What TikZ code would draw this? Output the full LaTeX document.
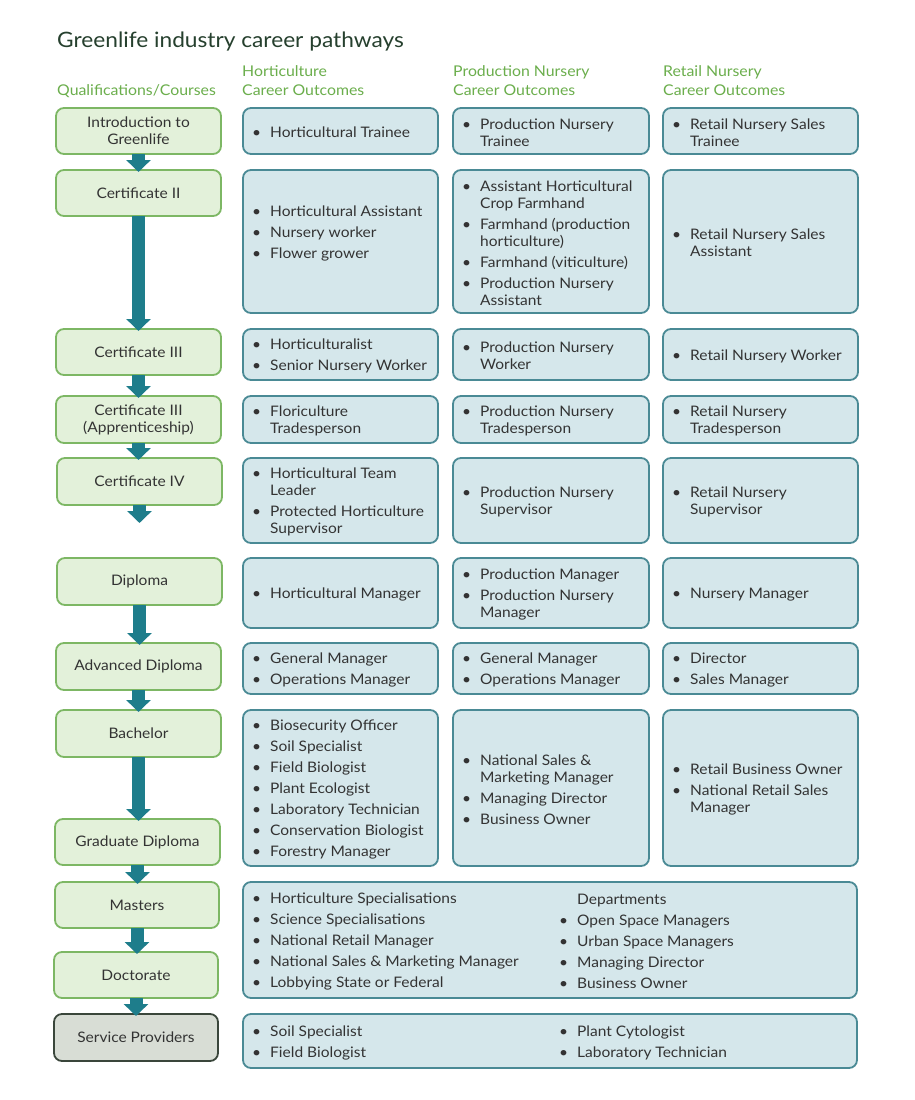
\documentclass[tikz,border=0pt]{standalone}
\usepackage{fontspec}
\setmainfont{Lato}[FakeStretch=1.07]
\usetikzlibrary{arrows.meta,calc}
\definecolor{titlecol}{HTML}{26402E}
\definecolor{hdrcol}{HTML}{6BAE4C}
\definecolor{qfill}{HTML}{E3F1DA}
\definecolor{qdraw}{HTML}{7DB764}
\definecolor{cfill}{HTML}{D5E7EB}
\definecolor{cdraw}{HTML}{4A8A95}
\definecolor{sfill}{HTML}{D8DDD5}
\definecolor{sdraw}{HTML}{3A463B}
\definecolor{arrcol}{HTML}{1E7D8B}
\definecolor{txtcol}{HTML}{333333}
\newcommand\bu{\makebox[18pt][l]{\textbullet}}
\newcommand\cu{\hspace*{18pt}}
\newcommand\mkbox[7]{\node[#1, minimum width={(#5)-(#3)}, minimum height={(#6)-(#4)}] (#2) at ({((#3)+(#5))/2},{((#4)+(#6))/2}) {#7};}
\tikzset{
  basebox/.style={rectangle, rounded corners=8pt, line width=1.8pt, inner sep=0pt, outer sep=0pt},
  qbox/.style={basebox, fill=qfill, draw=qdraw, align=center, text=txtcol, font=\fontsize{14.5}{17}\selectfont},
  sbox/.style={qbox, fill=sfill, draw=sdraw},
  cbox/.style={basebox, fill=cfill, draw=cdraw},
  txt/.style={anchor=west, align=left, inner sep=0pt, yshift=-1.5pt, text=txtcol, font=\fontsize{14.5}{17}\selectfont},
  hdr/.style={anchor=base west, inner sep=0pt, text=hdrcol, font=\fontsize{14.8}{17}\selectfont},
  flow/.style={draw=arrcol, line width=13pt, -{Triangle[width=24pt,length=12pt]}}
}
\begin{document}
\begin{tikzpicture}[x=1pt,y=-1pt]
\useasboundingbox[fill=white] (0,0) rectangle (915,1100);

% title and headers
\node[anchor=base west, inner sep=0pt, text=titlecol, font=\fontsize{21.2}{24}\selectfont] (title) at (57,47) {Greenlife industry career pathways};
\node[hdr] (hq) at (57,95) {Qualifications/Courses};
\node[hdr] (hh1) at (242,76) {Horticulture};
\node[hdr] (hh2) at (242,95) {Career Outcomes};
\node[hdr] (hp1) at (453,76) {Production Nursery};
\node[hdr] (hp2) at (453,95) {Career Outcomes};
\node[hdr] (hr1) at (663,76) {Retail Nursery};
\node[hdr] (hr2) at (663,95) {Career Outcomes};

% qualifications
\mkbox{qbox}{intro}{56}{108}{221}{154}{Introduction to\\Greenlife}
\mkbox{qbox}{cert2}{56}{170}{221}{216}{Certificate II}
\mkbox{qbox}{cert3}{56}{329}{221}{375}{Certificate III}
\mkbox{qbox}{cert3a}{56}{396}{221}{443}{Certificate III\\(Apprenticeship)}
\mkbox{qbox}{cert4}{57}{458}{222}{505}{Certificate IV}
\mkbox{qbox}{dipl}{57}{558}{222}{605}{Diploma}
\mkbox{qbox}{adv}{56}{643}{221}{690}{Advanced Diploma}
\mkbox{qbox}{bach}{56}{710}{221}{757}{Bachelor}
\mkbox{qbox}{grad}{55}{819}{220}{865}{Graduate Diploma}
\mkbox{qbox}{mast}{55}{882}{219}{928}{Masters}
\mkbox{qbox}{doct}{54}{952}{218}{998}{Doctorate}
\mkbox{sbox}{serv}{54}{1014}{218}{1061}{Service Providers}

% flow arrows
\coordinate (c4end) at ($(cert4.south)+(0,18)$);
\draw[flow] (intro.south) -- ($(intro.south |- cert2.north)+(0,2)$);
\draw[flow] (cert2.south) -- ($(cert2.south |- cert3.north)+(0,2)$);
\draw[flow] (cert3.south) -- ($(cert3.south |- cert3a.north)+(0,2)$);
\draw[flow] (cert3a.south) -- ($(cert3a.south |- cert4.north)+(0,2)$);
\draw[flow] (cert4.south) -- (c4end);
\draw[flow] (dipl.south) -- ($(dipl.south |- adv.north)+(0,2)$);
\draw[flow] (adv.south) -- ($(adv.south |- bach.north)+(0,2)$);
\draw[flow] (bach.south) -- ($(bach.south |- grad.north)+(0,2)$);
\draw[flow] (grad.south) -- ($(grad.south |- mast.north)+(0,2)$);
\draw[flow] (mast.south) -- ($(mast.south |- doct.north)+(0,2)$);
\draw[flow] (doct.south) -- ($(doct.south |- serv.north)+(0,2)$);

% outcome boxes
\mkbox{cbox}{a1}{243}{108}{438}{154}{}
\mkbox{cbox}{b1}{453}{108}{649}{154}{}
\mkbox{cbox}{c1}{663}{108}{858}{154}{}
\mkbox{cbox}{a2}{243}{170}{438}{313}{}
\mkbox{cbox}{b2}{453}{170}{649}{313}{}
\mkbox{cbox}{c2}{663}{170}{858}{313}{}
\mkbox{cbox}{a3}{243}{329}{438}{380}{}
\mkbox{cbox}{b3}{453}{329}{649}{380}{}
\mkbox{cbox}{c3}{663}{329}{858}{380}{}
\mkbox{cbox}{a4}{243}{396}{438}{443}{}
\mkbox{cbox}{b4}{453}{396}{649}{443}{}
\mkbox{cbox}{c4}{663}{396}{858}{443}{}
\mkbox{cbox}{a5}{243}{458}{438}{543}{}
\mkbox{cbox}{b5}{453}{458}{649}{543}{}
\mkbox{cbox}{c5}{663}{458}{858}{543}{}
\mkbox{cbox}{a6}{243}{558}{438}{628}{}
\mkbox{cbox}{b6}{453}{558}{649}{628}{}
\mkbox{cbox}{c6}{663}{558}{858}{628}{}
\mkbox{cbox}{a7}{243}{643}{438}{694}{}
\mkbox{cbox}{b7}{453}{643}{649}{694}{}
\mkbox{cbox}{c7}{663}{643}{858}{694}{}
\mkbox{cbox}{a8}{243}{710}{438}{866}{}
\mkbox{cbox}{b8}{453}{710}{649}{866}{}
\mkbox{cbox}{c8}{663}{710}{858}{866}{}
\mkbox{cbox}{m9}{243}{882}{857}{998}{}
\mkbox{cbox}{s10}{243}{1014}{857}{1068}{}

% outcome texts
\node[txt] (a1t) at ([xshift=9pt]a1.west) {\bu Horticultural Trainee};
\node[txt] (b1t) at ([xshift=9pt]b1.west) {\bu Production Nursery\\\cu Trainee};
\node[txt] (c1t) at ([xshift=9pt]c1.west) {\bu Retail Nursery Sales\\\cu Trainee};

\node[txt] (a2t) at ([xshift=9pt,yshift=10pt]a2.west) {\bu Horticultural Assistant\\[4pt]\bu Nursery worker\\[4pt]\bu Flower grower};
\node[txt] (b2t) at ([xshift=9pt]b2.west) {\bu Assistant Horticultural\\\cu Crop Farmhand\\[4pt]\bu Farmhand (production\\\cu horticulture)\\[4pt]\bu Farmhand (viticulture)\\[4pt]\bu Production Nursery\\\cu Assistant};
\node[txt] (c2t) at ([xshift=9pt]c2.west) {\bu Retail Nursery Sales\\\cu Assistant};

\node[txt] (a3t) at ([xshift=9pt]a3.west) {\bu Horticulturalist\\[4pt]\bu Senior Nursery Worker};
\node[txt] (b3t) at ([xshift=9pt]b3.west) {\bu Production Nursery\\\cu Worker};
\node[txt] (c3t) at ([xshift=9pt]c3.west) {\bu Retail Nursery Worker};

\node[txt] (a4t) at ([xshift=9pt]a4.west) {\bu Floriculture\\\cu Tradesperson};
\node[txt] (b4t) at ([xshift=9pt]b4.west) {\bu Production Nursery\\\cu Tradesperson};
\node[txt] (c4t) at ([xshift=9pt]c4.west) {\bu Retail Nursery\\\cu Tradesperson};

\node[txt] (a5t) at ([xshift=9pt]a5.west) {\bu Horticultural Team\\\cu Leader\\[4pt]\bu Protected Horticulture\\\cu Supervisor};
\node[txt] (b5t) at ([xshift=9pt]b5.west) {\bu Production Nursery\\\cu Supervisor};
\node[txt] (c5t) at ([xshift=9pt]c5.west) {\bu Retail Nursery\\\cu Supervisor};

\node[txt] (a6t) at ([xshift=9pt]a6.west) {\bu Horticultural Manager};
\node[txt] (b6t) at ([xshift=9pt]b6.west) {\bu Production Manager\\[4pt]\bu Production Nursery\\\cu Manager};
\node[txt] (c6t) at ([xshift=9pt]c6.west) {\bu Nursery Manager};

\node[txt] (a7t) at ([xshift=9pt]a7.west) {\bu General Manager\\[4pt]\bu Operations Manager};
\node[txt] (b7t) at ([xshift=9pt]b7.west) {\bu General Manager\\[4pt]\bu Operations Manager};
\node[txt] (c7t) at ([xshift=9pt]c7.west) {\bu Director\\[4pt]\bu Sales Manager};

\node[txt] (a8t) at ([xshift=9pt]a8.west) {\bu Biosecurity Officer\\[4pt]\bu Soil Specialist\\[4pt]\bu Field Biologist\\[4pt]\bu Plant Ecologist\\[4pt]\bu Laboratory Technician\\[4pt]\bu Conservation Biologist\\[4pt]\bu Forestry Manager};
\node[txt] (b8t) at ([xshift=9pt]b8.west) {\bu National Sales \&\\\cu Marketing Manager\\[4pt]\bu Managing Director\\[4pt]\bu Business Owner};
\node[txt] (c8t) at ([xshift=9pt]c8.west) {\bu Retail Business Owner\\[4pt]\bu National Retail Sales\\\cu Manager};

\node[txt] (m9l) at ([xshift=9pt]m9.west) {\bu Horticulture Specialisations\\[4pt]\bu Science Specialisations\\[4pt]\bu National Retail Manager\\[4pt]\bu National Sales \& Marketing Manager\\[4pt]\bu Lobbying State or Federal};
\node[txt] (m9r) at ([xshift=316pt]m9.west) {\cu Departments\\[4pt]\bu Open Space Managers\\[4pt]\bu Urban Space Managers\\[4pt]\bu Managing Director\\[4pt]\bu Business Owner};

\node[txt] (s10l) at ([xshift=9pt]s10.west) {\bu Soil Specialist\\[4pt]\bu Field Biologist};
\node[txt] (s10r) at ([xshift=316pt]s10.west) {\bu Plant Cytologist\\[4pt]\bu Laboratory Technician};
\end{tikzpicture}
\end{document}
